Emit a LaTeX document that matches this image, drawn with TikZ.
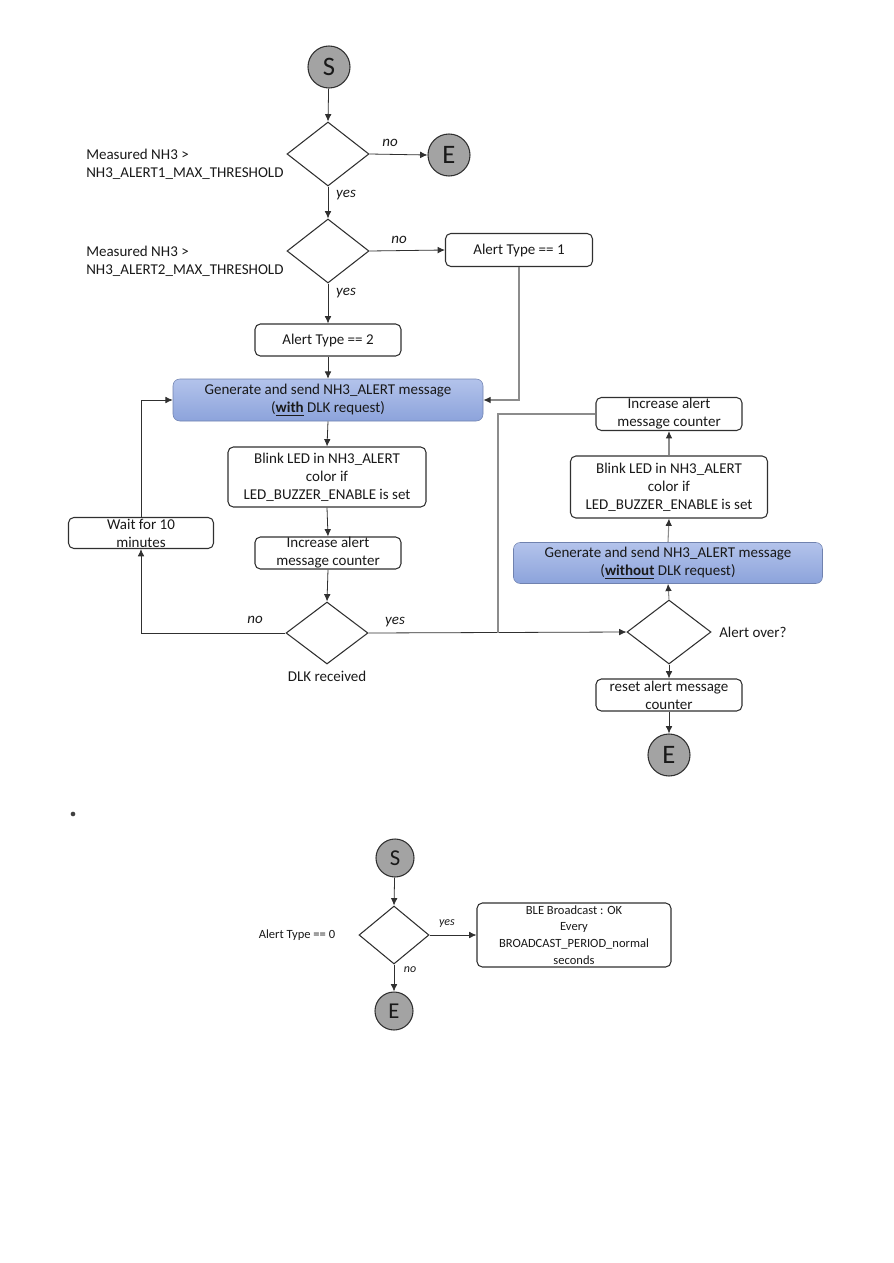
\documentclass[tikz,border=0pt]{standalone}
\usepackage{fontspec}
\setmainfont{Carlito}
\usetikzlibrary{shapes.geometric,arrows.meta,calc}
\definecolor{lineC}{HTML}{303030}
\definecolor{blueTop}{HTML}{B3C3EB}
\definecolor{blueBot}{HTML}{8CA3DB}
\definecolor{circC}{HTML}{A3A3A3}
\begin{document}
\begin{tikzpicture}[x=0.75pt,y=-0.75pt,
  every node/.style={font=\fontsize{11.25}{13.5}\selectfont, text=black!90},
  term/.style={circle, draw=lineC, line width=0.8pt, fill=circC, minimum size=31.5pt, inner sep=0pt, font=\fontsize{20}{22}\selectfont},
  sterm/.style={circle, draw=lineC, line width=0.8pt, fill=circC, minimum size=28.5pt, inner sep=0pt, font=\fontsize{17}{19}\selectfont},
  dec/.style={diamond, draw=lineC, line width=0.8pt, inner sep=0pt, minimum width=61.5pt, minimum height=48pt},
  sdec/.style={diamond, draw=lineC, line width=0.8pt, inner sep=0pt, minimum width=52.5pt, minimum height=43.5pt},
  proc/.style={rectangle, rounded corners=4pt, draw=lineC, line width=0.8pt, fill=white, align=center, inner sep=0pt},
  gen/.style={rectangle, rounded corners=5pt, draw=blueBot!80!black, line width=0.4pt, top color=blueTop, bottom color=blueBot, align=center, inner sep=0pt},
  lbl/.style={font=\fontsize{11.25}{13.5}\selectfont\itshape},
  slbl/.style={font=\fontsize{9}{11}\selectfont\itshape},
  arr/.style={draw=lineC, line width=0.6pt, -{Latex[length=5.5pt,width=5pt]}},
  ln/.style={draw=lineC, line width=0.6pt},
  gln/.style={draw=black!45, line width=0.8pt},
  garr/.style={draw=black!45, line width=0.8pt, -{Latex[length=5.5pt,width=5pt,color=lineC]}}
]
\useasboundingbox (0,0) rectangle (893,1263);

% ---------- top flowchart ----------
\node[term] (s1) at (329,67) {S};
\node[dec] (d1) at (328,154) {};
\node[term] (e1) at (449,155) {E};
\node[anchor=west, align=left, inner sep=0pt] (q1) at (86,164) {Measured NH3 >\\NH3\_ALERT1\_MAX\_THRESHOLD};
\node[lbl] (no1) at (390,143) {no};
\node[lbl] (yes1) at (346,195) {yes};

\node[dec] (d2) at (328,251) {};
\node[anchor=west, align=left, inner sep=0pt] (q2) at (86,261) {Measured NH3 >\\NH3\_ALERT2\_MAX\_THRESHOLD};
\node[lbl] (no2) at (399,240) {no};
\node[lbl] (yes2) at (346,293) {yes};
\node[proc, minimum width=110.25pt, minimum height=24.75pt] (at1) at (519,250) {Alert Type == 1};
\node[proc, minimum width=109.5pt, minimum height=24pt] (at2) at (328,340) {Alert Type == 2};

\node[gen, minimum width=232.5pt, minimum height=31.5pt] (gen1) at (328,400) {Generate and send NH3\_ALERT message\\(\textbf{\underline{with}} DLK request)};
\node[proc, minimum width=148.5pt, minimum height=45pt] (blink1) at (327,477) {Blink LED in NH3\_ALERT\\color if\\LED\_BUZZER\_ENABLE is set};
\node[proc, minimum width=109.5pt, minimum height=24pt] (inc1) at (328,553) {Increase alert\\message counter};
\node[dec, minimum height=46.5pt] (dlk) at (327,633) {};
\node (dlkl) at (327,676) {DLK received};
\node[lbl] (no3) at (255,620) {no};
\node[lbl] (yes3) at (395,622) {yes};
\node[proc, minimum width=108.75pt, minimum height=23.25pt] (wait) at (141,533) {Wait for 10\\minutes};

\node[dec, minimum width=63pt] (ao) at (669,632) {};
\node[anchor=west, inner sep=0pt] (aol) at (719,632) {Alert over?};
\node[gen, minimum width=231.75pt, minimum height=30.75pt] (gen2) at (668,563) {Generate and send NH3\_ALERT message\\(\textbf{\underline{without}} DLK request)};
\node[proc, minimum width=147.75pt, minimum height=46.5pt] (blink2) at (669,487) {Blink LED in NH3\_ALERT\\color if\\LED\_BUZZER\_ENABLE is set};
\node[proc, minimum width=109.5pt, minimum height=24.75pt] (inc2) at (669,414) {Increase alert\\message counter};
\node[proc, minimum width=109.5pt, minimum height=24pt] (reset) at (669,695) {reset alert message\\counter};
\node[term] (e2) at (669,755) {E};
\coordinate (j1) at (498,633);

\draw[arr] (s1) -- (d1.north);
\draw[arr] (d1.east) -- (e1.west);
\draw[arr] (d1.south) -- (d2.north);
\draw[arr] (d2.east) -- (at1.west);
\draw[arr] (d2.south) -- (at2.north);
\draw[garr] (at1.south) |- (gen1.east);
\draw[arr] (at2.south) -- (gen1.north);
\draw[arr] (gen1.south) -- (blink1.north);
\draw[arr] (blink1.south) -- (inc1.north);
\draw[arr] (inc1.south) -- (dlk.north);
\draw[arr] (dlk.west) -| (wait.south);
\draw[arr] (wait.north) |- (gen1.west);
\draw[arr] (dlk.east) -- (ao.west);
\draw[garr] (ao.north) -- (gen2.south);
\draw[garr] (gen2.north) -- (blink2.south);
\draw[garr] (blink2.north) -- (inc2.south);
\draw[gln] (inc2.west) -| (j1);
\draw[arr] (ao.south) -- (reset.north);
\draw[arr] (reset.south) -- (e2.north);

% bullet
\node[circle, fill=black!75, inner sep=0pt, minimum size=3.5pt] (bul) at (73,814) {};

% ---------- bottom flowchart ----------
\node[sterm] (s3) at (395,858) {S};
\node[sdec] (d3) at (394,935) {};
\node[font=\fontsize{9.4}{11}\selectfont] (q3) at (297,935) {Alert Type == 0};
\node[slbl] (yes4) at (447,924) {yes};
\node[slbl] (no4) at (410,970) {no};
\node[proc, minimum width=145.5pt, minimum height=48pt, font=\fontsize{9.4}{12.6}\selectfont] (ble) at (574,935) {BLE Broadcast : OK\\Every\\BROADCAST\_PERIOD\_normal\\seconds};
\node[sterm] (e3) at (394,1011) {E};

\draw[arr] (s3) -- (d3.north);
\draw[arr] (d3.east) -- (ble.west);
\draw[arr] (d3.south) -- (e3.north);
\end{tikzpicture}
\end{document}
